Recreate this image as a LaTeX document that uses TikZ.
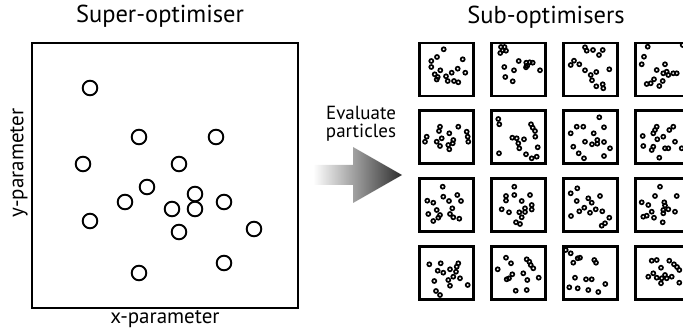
\documentclass[tikz,border=0pt]{standalone}
\usepackage{fontspec}
\setmainfont{PT Sans}
\begin{document}
\begin{tikzpicture}[x=1pt,y=-1pt,
  lbl/.style={font=\fontsize{19}{18}\selectfont, inner sep=0pt, align=center},
  title/.style={font=\fontsize{24.5}{26}\selectfont, inner sep=0pt},
  axislbl/.style={font=\fontsize{21}{22}\selectfont, inner sep=0pt},
  bigbox/.style={draw, line width=1.9pt},
  particle/.style={draw, line width=1.9pt},
  subbox/.style={draw, line width=2.2pt},
  dot/.style={draw, line width=1.7pt}]
\useasboundingbox (0,0) rectangle (683,331);
\clip (0,0) rectangle (683,331);

% super-optimiser panel
\node[title] (suptitle) at (160,16) {Super-optimiser};
\draw[bigbox] (32,43) rectangle (298,308);
\node[axislbl] (xlab) at (165,319) {x-parameter};
\node[axislbl, rotate=90] (ylab) at (19,163) {y-parameter};
\foreach \x/\y in {90/88, 139/137, 216/137, 83/164, 179/164, 147/187, 125/202,
  195/194, 224/202, 172/209, 195/209, 90/221, 179/232, 254/229, 224/263, 139/273}
  \draw[particle] (\x,\y) circle[radius=7.3];

% evaluation arrow
\node[lbl] (evtext) at (361,124) {Evaluate\\particles};
\shade[left color=white, right color=black!82]
  (313,165) -- (353,165) -- (353,147) -- (402,175) -- (353,203) -- (353,185) -- (313,185) -- cycle;

% sub-optimiser grid
\node[title] (subtitle) at (546,17) {Sub-optimisers};
\foreach \c/\cx in {1/419.5, 2/491.5, 3/563.5, 4/635.5}
  \foreach \r/\ry in {1/43, 2/110.5, 3/178.5, 4/246.5}
    \draw[subbox] (\cx,\ry) rectangle ++(54,53);

% row 1
\foreach \x/\y in {443.7/49.3, 437/57, 431.3/61, 431.3/67, 462.7/59.3, 440.3/70.3, 434.7/74.3,
  437.7/77, 436.7/79.5, 446/76.3, 451.7/72.7, 457.7/68.7, 465.3/72.7, 447.7/81, 454/81, 458.3/82.3}
  \draw[dot] (\x,\y) circle[radius=2];
\foreach \x/\y in {501/47, 504.5/47, 502.7/50.3, 506/50.7, 500.3/53, 518.7/61, 504.3/67, 514/70.3,
  505.3/77, 512.7/81.3, 526.3/62.7, 529.7/62.3, 532.7/62.7, 527.3/65.7, 526/67.3, 540/70.3}
  \draw[dot] (\x,\y) circle[radius=2];
\foreach \x/\y in {585/47.3, 586.7/50.7, 593/50, 602.7/50, 599/55, 574/60.7, 570.7/65, 579.3/64.3,
  585/70.3, 590.7/75, 596.3/72, 609.3/69.3, 592/80.3, 596.3/86.3, 602.7/84.3, 603.3/88.3}
  \draw[dot] (\x,\y) circle[radius=2];
\foreach \x/\y in {647.7/46.7, 644/56.7, 641.7/64.3, 656.7/70, 665/64.3, 666.7/71.7, 668.3/75,
  663.3/73.3, 662.7/81, 673.3/73.3, 676.7/73.3, 646.7/84, 650.7/83.3, 654/79.3, 659.3/86, 682.7/45}
  \draw[dot] (\x,\y) circle[radius=2];

% row 2
\foreach \x/\y in {440/126.7, 439/131, 426.7/136.7, 425/141.7, 436.7/141.7, 441.7/138.3, 449.3/133.3,
  458.3/126.7, 466.7/131.7, 467.7/136.7, 468.3/141.7, 440/146, 448.3/145, 453.3/140, 452.7/143.3, 449.3/149.3}
  \draw[dot] (\x,\y) circle[radius=2];
\foreach \x/\y in {498.3/119, 499.3/124.3, 499/153.3, 512.3/137.7, 516.7/138.3, 524/139.3, 518.3/143.3,
  519.3/148.3, 531/124.3, 532.7/127.7, 535/131, 535.3/136.7, 537.7/147.3, 531.7/158.3, 536.7/156.7, 526/154.3}
  \draw[dot] (\x,\y) circle[radius=2];
\foreach \x/\y in {599.3/117.3, 576.7/126.7, 583.3/126.7, 604/127.3, 570.7/133.3, 593.7/133.3, 573.3/146.7,
  585/141.7, 597.3/140, 597.3/143.7, 604/142, 610/148.3, 592/144.3, 578.7/153.3, 584/158.3, 604/156}
  \draw[dot] (\x,\y) circle[radius=2];
\foreach \x/\y in {656.7/126.7, 655/130, 653.3/133.3, 642.7/136, 663.3/136.7, 669.3/130, 673.3/126.7,
  657.3/139.3, 643.3/146, 653.3/146.7, 651.7/150, 659.3/157.7, 665/148.3, 668.3/148.3, 675/141.7, 681.7/148.3}
  \draw[dot] (\x,\y) circle[radius=2];

% row 3
\foreach \x/\y in {442.7/186.7, 443.3/196.7, 449/201, 457.3/195, 461/201, 427.3/200.7, 433.3/202.7,
  436.7/210, 452.3/208.3, 450/214, 453.3/217.3, 459.3/218.7, 428.3/214, 433.3/221, 438.3/217.7, 440/215}
  \draw[dot] (\x,\y) circle[radius=2];
\foreach \x/\y in {514.3/186.7, 506/196, 506/200.5, 514.3/195, 530/195, 521.7/201, 531.7/205, 531.7/209.5,
  525/208.3, 525/212, 519.3/212.3, 521.7/217.3, 516/222.3, 520/224, 501.7/209.3, 509/212.3}
  \draw[dot] (\x,\y) circle[radius=2];
\foreach \x/\y in {577.3/188.3, 570.7/193.3, 588.3/198.3, 600/196, 576.7/201, 591.7/202.7, 584.3/207.7,
  579.3/211.3, 595.7/209.3, 590/212.7, 602.3/211.3, 571/216, 609.3/217.7, 605/223.3, 601.7/225.7}
  \draw[dot] (\x,\y) circle[radius=2];
\foreach \x/\y in {660/186.7, 655/196, 676.7/196, 641.7/202.3, 648.3/205, 664.3/202.3, 665/205.5,
  668.3/209.3, 663.3/210, 663.3/213.3, 651.7/211.7, 646.7/215.7, 643.3/216.7, 654/217.7, 662.7/222.3, 675/211.7}
  \draw[dot] (\x,\y) circle[radius=2];

% row 4
\foreach \x/\y in {429.3/264.3, 440.7/263.3, 458.3/263.3, 456.7/266.7, 437.7/270.7, 443.3/272.7, 450/269.3,
  456/271.7, 453.3/276.7, 460/278.3, 448.3/280, 434.3/281, 450/285.7, 467.7/285, 436/291, 440/295}
  \draw[dot] (\x,\y) circle[radius=2];
\foreach \x/\y in {506/257.7, 511/263.3, 497.7/269.3, 526.7/259.3, 529.3/261.7, 530.7/265, 533.3/268.3,
  512.3/274.3, 506.7/279.3, 509/278.3, 523.3/273.3, 527.3/280, 538.7/277.7, 515.7/290.7, 526.7/290}
  \draw[dot] (\x,\y) circle[radius=2];
\foreach \x/\y in {565.7/250, 570.7/253.3, 577.7/258.3, 573.3/262.7, 580/257.7, 594.3/260, 596/262.7,
  575/277.7, 586/279.3, 591.7/279.3, 605.3/284, 569.3/287.3, 577.7/288.3, 588.3/290, 598.3/292}
  \draw[dot] (\x,\y) circle[radius=2];
\foreach \x/\y in {651.7/260.7, 656.7/260, 669.3/260.7, 674/264.3, 679.3/270, 661/267.7, 653.3/273.3,
  648.3/276.7, 656.7/277.7, 665/275, 661.7/278.3, 671.7/276.7, 679.3/282.7, 661/283.3, 666.7/278.3, 677/267}
  \draw[dot] (\x,\y) circle[radius=2];
\end{tikzpicture}
\end{document}
